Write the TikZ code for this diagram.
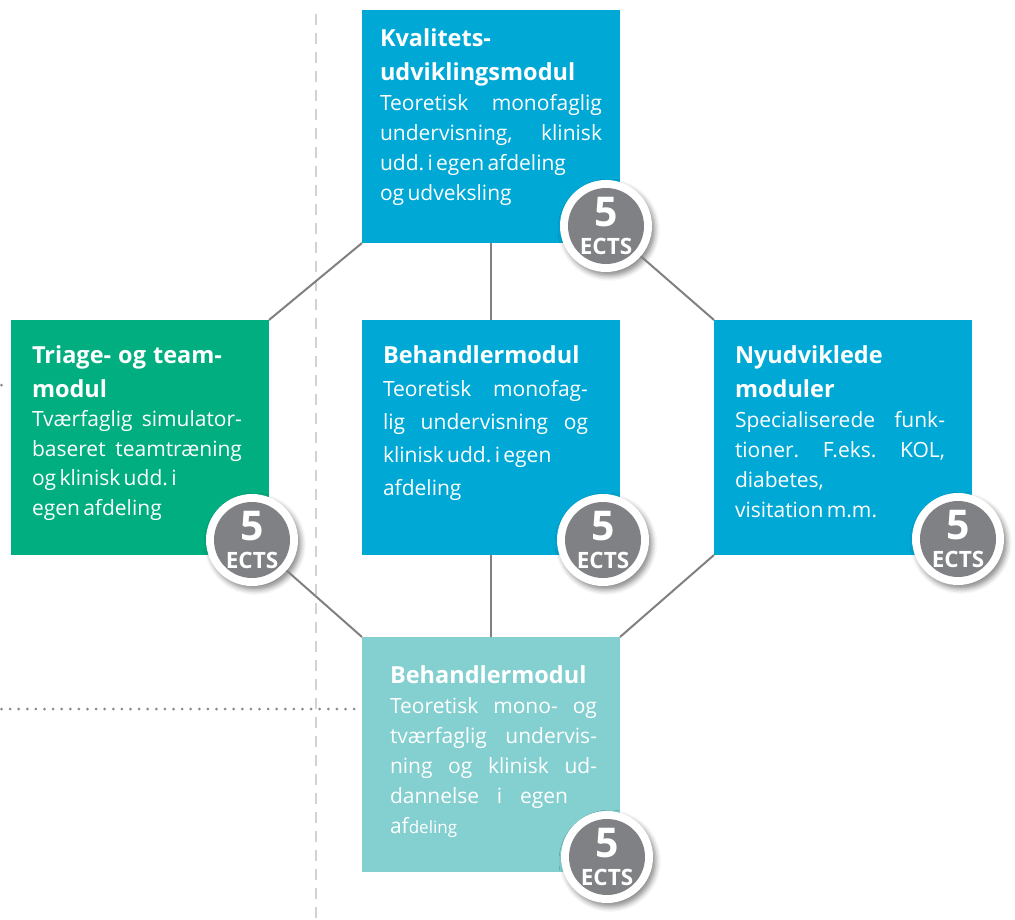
\documentclass[tikz,border=0pt]{standalone}
\usepackage{fontspec}
\setmainfont{Open Sans}
\usetikzlibrary{shadows.blur}

\definecolor{modblue}{HTML}{00A8D6}
\definecolor{modgreen}{HTML}{00AE7F}
\definecolor{modteal}{HTML}{84CFD0}
\definecolor{badgegray}{HTML}{808185}
\definecolor{linkgray}{HTML}{808080}
\definecolor{guidegray}{HTML}{D2D2D2}
\definecolor{dotgray}{HTML}{8A8A8A}

% a justified line: words split by \hfill inside a box of width \jw
\newlength\jw
\newcommand\jl[2][\jw]{\leavevmode\hbox to #1{#2}}
\newcommand\ttl{\fontsize{23.5}{34}\selectfont\bfseries\spaceskip=0.3em plus 0.1em}
\newcommand\bdy[1]{\fontsize{21}{#1}\selectfont}

% the round "5 ECTS" badge
\newcommand\ectsbadge[2]{%
  \node[ectsring] (#1) at (#2) {};
  \node[ectscore] (#1c) at (#1) {};
  \node[fivetxt] (#1n) at ([yshift=14pt]#1.center) {5};
  \node[ectstxt] (#1t) at ([yshift=-20pt]#1.center) {ECTS};}

\tikzset{
  modbox/.style={rectangle, anchor=north west, inner sep=0pt, outer sep=0pt,
    minimum width=258pt, minimum height=235pt},
  modtext/.style={anchor=north west, inner sep=0pt, outer sep=0pt,
    align=left, text=white},
  ectsring/.style={circle, fill=white, minimum size=92pt, inner sep=0pt,
    blur shadow={shadow xshift=3pt, shadow yshift=-4pt,
      shadow blur radius=5pt, shadow opacity=45}},
  ectscore/.style={circle, fill=badgegray, minimum size=76pt, inner sep=0pt},
  fivetxt/.style={inner sep=0pt, text=white,
    font=\fontsize{41}{41}\selectfont\bfseries},
  ectstxt/.style={inner sep=0pt, text=white,
    font=\fontsize{22.5}{22.5}\selectfont\bfseries},
  conn/.style={draw=linkgray, line width=2pt},
  guide/.style={draw=guidegray, line width=2pt, dash pattern=on 11pt off 8pt},
  dotline/.style={draw=dotgray, line width=3pt, line cap=round,
    dash pattern=on 0pt off 8.6pt},
}

\begin{document}
\begin{tikzpicture}[x=1pt, y=-1pt]
\useasboundingbox (0,0) rectangle (1015,920);

% vertical guide line
\coordinate (gtop) at (316,14);
\coordinate (gbot) at (316,920);
\draw[guide] (gtop) -- (gbot);

% module boxes
\node[modbox, fill=modblue, minimum height=233pt] (top) at (362,10) {};
\node[modbox, fill=modgreen] (left) at (11,320) {};
\node[modbox, fill=modblue] (mid) at (362,320) {};
\node[modbox, fill=modblue] (right) at (714,320) {};
\node[modbox, fill=modteal] (bot) at (362,637) {};

% box texts
\node[modtext, text width=222pt] (toptxt) at (380,27) {%
  \setlength\jw{222pt}%
  {\ttl\rule{0pt}{20pt}Kvalitets-\\udviklingsmodul\par}
  {\bdy{30}\jl{Teoretisk\hfill monofaglig}\\\jl{undervisning,\hfill klinisk}\\udd.\ i egen afdeling\\og udveksling\par}};

\node[modtext, text width=210pt] (lefttxt) at (32,343) {%
  \setlength\jw{210pt}%
  {\ttl\rule{0pt}{20pt}Triage- og team-\\modul\par}
  {\bdy{29.5}\jl{Tværfaglig\hfill simulator-}\\\jl{baseret\hfill teamtræning}\\og klinisk udd.\ i\\egen afdeling\par}};

\node[modtext, text width=205pt] (midtxt) at (383,343) {%
  \setlength\jw{205pt}%
  {\ttl\rule{0pt}{20pt}Behandlermodul\par}
  {\bdy{33}\jl{Teoretisk\hfill monofag-}\\\jl{lig\hfill undervisning\hfill og}\\klinisk udd.\ i egen\\afdeling\par}};

\node[modtext, text width=210pt] (righttxt) at (735,343) {%
  \setlength\jw{210pt}%
  {\ttl\rule{0pt}{20pt}Nyudviklede\\moduler\par}
  {\bdy{30}\jl{Specialiserede\hfill funk-}\\\jl{tioner.\hfill F.eks.\hfill KOL,}\\diabetes,\\visitation m.m.\par}};

\node[modtext, text width=207pt] (bottxt) at (390,663) {%
  \setlength\jw{207pt}%
  {\ttl\rule{0pt}{20pt}Behandlermodul\par}
  {\bdy{30}\jl{Teoretisk\hfill mono-\hfill og}\\\jl{tværfaglig\hfill undervis-}\\\jl{ning\hfill og\hfill klinisk\hfill ud-}\\\jl[178pt]{dannelse\hfill i\hfill egen}\\af{\fontsize{17}{30}\selectfont deling}\par}};

% ECTS badges
\ectsbadge{btop}{606,226}
\ectsbadge{bleft}{252,540}
\ectsbadge{bmid}{603,540}
\ectsbadge{bright}{958,539}
\ectsbadge{bbot}{607,857}

% connectors
\draw[conn] (top.south west) -- (left.north east);
\draw[conn] (top.south) -- (mid.north);
\draw[conn] (btop) -- (right.north west);
\draw[conn] (bleft) -- (bot.north west);
\draw[conn] (mid.south) -- (bot.north);
\draw[conn] (right.south west) -- (bot.north east);

% dotted leaders from the left margin
\coordinate (dA) at (1.5,385);
\coordinate (dB) at (1.5,709);
\draw[dotline] (dA) -- ([xshift=-2pt]left.west |- dA);
\draw[dotline] (dB) -- ([xshift=-2pt]bot.west |- dB);
\end{tikzpicture}
\end{document}
